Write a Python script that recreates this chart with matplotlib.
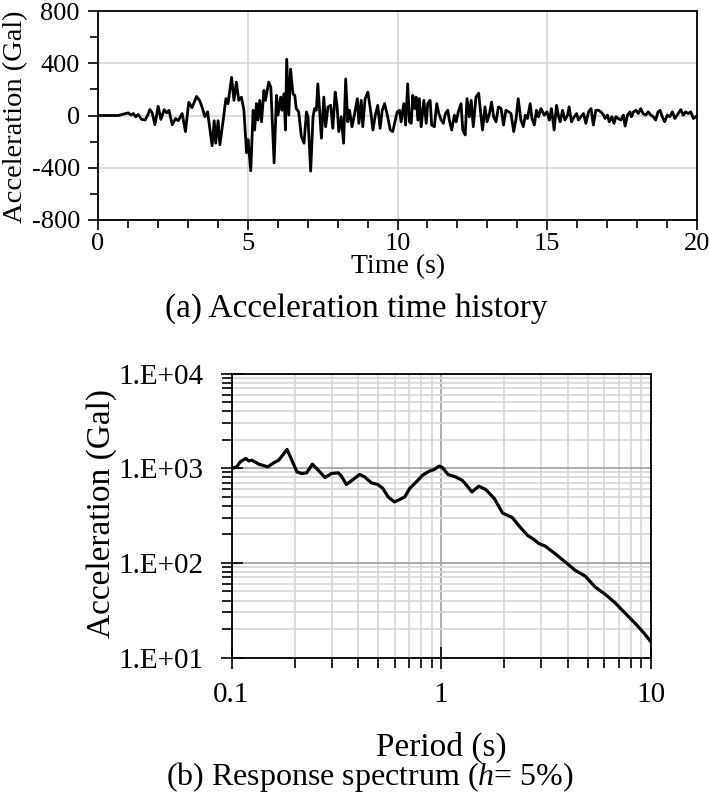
import matplotlib
matplotlib.use('Agg')
import matplotlib.pyplot as plt
from matplotlib.ticker import MultipleLocator, FixedLocator, FixedFormatter, LogLocator, NullFormatter

# ---------------- data ----------------
time_s = [0.0, 0.68, 0.84, 1.01, 1.10, 1.18, 1.26, 1.34, 1.46, 1.57, 1.66, 1.73, 1.81, 1.90,
          2.01, 2.10, 2.21, 2.29, 2.37, 2.48, 2.59, 2.68, 2.81, 2.92, 3.03, 3.14, 3.29, 3.40,
          3.48, 3.57, 3.66, 3.73, 3.81, 3.88, 3.93, 4.01, 4.07, 4.18, 4.27, 4.34, 4.46, 4.54,
          4.62, 4.70, 4.79, 4.87, 4.96, 5.01, 5.10, 5.18, 5.23, 5.29, 5.34, 5.40, 5.46, 5.54,
          5.59, 5.70, 5.77, 5.88, 5.96, 6.01, 6.10, 6.14, 6.21, 6.26, 6.30, 6.37, 6.43, 6.51,
          6.57, 6.62, 6.70, 6.79, 6.88, 6.96, 7.01, 7.10, 7.18, 7.23, 7.29, 7.34, 7.40, 7.46,
          7.54, 7.60, 7.68, 7.77, 7.84, 7.92, 7.98, 8.04, 8.12, 8.20, 8.27, 8.34, 8.40, 8.48,
          8.57, 8.66, 8.71, 8.79, 8.84, 8.92, 9.01, 9.10, 9.18, 9.26, 9.34, 9.42, 9.49, 9.57,
          9.66, 9.76, 9.84, 9.99, 10.07, 10.12, 10.21, 10.27, 10.34, 10.40, 10.46, 10.51, 10.57,
          10.62, 10.68, 10.73, 10.79, 10.88, 10.96, 11.01, 11.09, 11.14, 11.23, 11.31, 11.38,
          11.46, 11.53, 11.60, 11.68, 11.73, 11.81, 11.90, 11.96, 12.03, 12.12, 12.18, 12.26,
          12.32, 12.40, 12.46, 12.53, 12.62, 12.71, 12.79, 12.84, 12.92, 12.99, 13.07, 13.14,
          13.21, 13.29, 13.37, 13.46, 13.54, 13.62, 13.71, 13.79, 13.88, 13.96, 14.03, 14.12,
          14.20, 14.27, 14.34, 14.43, 14.49, 14.57, 14.64, 14.71, 14.79, 14.90, 14.99, 15.07,
          15.14, 15.23, 15.31, 15.38, 15.43, 15.51, 15.59, 15.68, 15.73, 15.81, 15.90, 15.98,
          16.04, 16.12, 16.21, 16.29, 16.38, 16.46, 16.54, 16.62, 16.71, 16.79, 16.88, 16.93,
          17.01, 17.07, 17.16, 17.23, 17.29, 17.37, 17.46, 17.54, 17.60, 17.68, 17.76, 17.81,
          17.88, 17.96, 18.04, 18.12, 18.20, 18.29, 18.37, 18.46, 18.54, 18.62, 18.70, 18.77,
          18.84, 18.92, 19.01, 19.09, 19.18, 19.26, 19.34, 19.46, 19.54, 19.62, 19.71, 19.79,
          19.88, 19.96, 20.0]
accel_gal = [0, 0, 10, 20, 3, 15, -10, 8, -30, -35, 3, 45, 20, -71,
             71, -30, 45, 20, 40, -71, -23, -40, 15, -123, 101, 60, 146, 111,
             60, -10, 28, -91, -232, -40, -212, -40, -224, -35, 129, 91, 292, 116,
             255, 116, 140, 43, -285, -184, -423, 40, -111, 91, -35, 116, -48, 192,
             116, 255, 217, -363, 154, 3, 141, 40, 166, -111, 431, 3, 355, 166,
             154, 53, 28, -161, -212, 28, -10, -426, -10, 53, 40, 242, 40, -174,
             141, -86, 66, 78, -98, 179, 78, -123, -10, -212, 280, -48, 40, -86,
             15, 129, -60, 116, -86, 129, 179, 40, -111, 3, 78, -98, 40, 91,
             3, -111, -123, 28, 40, -48, 91, -73, 242, -48, -60, 154, 53,
             141, -35, 129, -86, 116, -60, 91, 116, -73, -86, 91, 15,
             -35, -60, 15, 40, -35, -111, 3, -48, 28, 91, -111, -149,
             129, -10, 116, -86, 141, 171, -10, -111, 66, -48, 15, 103,
             -10, -48, 66, 53, -73, 40, 28, 15, -123, -23, 129, -35,
             -86, 3, -23, 91, -23, -73, 40, -10, 53, 3, 28, -35,
             53, -111, 78, -10, -48, 40, -35, 3, 66, -48, -10, 15,
             -35, -10, 15, -60, 28, 53, -73, 40, 40, 28, 3, -23,
             3, -48, -10, -60, -10, -23, -35, 3, -81, 3, 28, -10,
             28, 40, 15, 53, 15, 3, 28, 3, -10, -35, 28, 40,
             -10, -48, 3, -10, 28, -23, 3, 45, 3, 28, 15, 28,
             -23, -10, 0]

period_s = [0.100, 0.106, 0.110, 0.117, 0.121, 0.125, 0.135, 0.149, 0.159, 0.168, 0.184,
            0.194, 0.205, 0.216, 0.228, 0.243, 0.259, 0.279, 0.300, 0.323, 0.334, 0.353,
            0.380, 0.408, 0.431, 0.465, 0.499, 0.527, 0.558, 0.598, 0.633, 0.670, 0.707,
            0.760, 0.815, 0.876, 0.925, 0.977, 1.012, 1.077, 1.169, 1.256, 1.30, 1.40, 1.51,
            1.63, 1.79, 1.96, 2.18, 2.39, 2.58, 2.77, 2.92, 3.13, 3.49, 3.90, 4.36, 4.85,
            5.42, 6.06, 6.75, 7.55, 8.43, 9.26, 10.0]
sa_gal = [993, 1032, 1166, 1266, 1194, 1215, 1102, 1032, 1138, 1215, 1577,
          1215, 914, 879, 892, 1102, 952, 797, 879, 892, 823, 672,
          759, 858, 809, 699, 672, 610, 497, 440, 466, 497, 610,
          716, 843, 930, 968, 1050, 1017, 858, 809, 746, 688, 561, 645,
          595, 478, 336, 301, 235, 195, 176, 160, 150, 125, 102, 83, 72.6,
          55.5, 46.4, 37.7, 29.2, 22.8, 18.1, 14.6]

time_ticks = [0, 5, 10, 15, 20]
time_tick_labels = ['0', '5', '10', '15', '20']
acc_ticks = [-800, -400, 0, 400, 800]
acc_tick_labels = ['-800', '-400', '0', '400', '800']
period_ticks = [0.1, 1, 10]
period_tick_labels = ['0.1', '1', '10']
sa_ticks = [10, 100, 1000, 10000]
sa_tick_labels = ['1.E+01', '1.E+02', '1.E+03', '1.E+04']

# ---------------- style ----------------
plt.rcParams['font.family'] = ['Liberation Serif', 'DejaVu Serif']
plt.rcParams['mathtext.fontset'] = 'custom'
plt.rcParams['mathtext.rm'] = 'Liberation Serif'
plt.rcParams['mathtext.it'] = 'Liberation Serif:italic'
plt.rcParams['axes.unicode_minus'] = False

W, H = 709, 794
fig = plt.figure(figsize=(W / 100, H / 100), dpi=100)


def rect(l, t, r, b):
    return [l / W, 1 - b / H, (r - l) / W, (b - t) / H]


def ftext(x, y, s, **kw):
    fig.text(x / W, 1 - y / H, s, ha='center', va='center', **kw)


# ---------------- (a) time history ----------------
ax1 = fig.add_axes(rect(98, 11, 697, 220))
ax1.plot(time_s, accel_gal, color='black', lw=2.0, solid_joinstyle='round')
ax1.set_xlim(0, 20)
ax1.set_ylim(-800, 800)
ax1.xaxis.set_major_locator(FixedLocator(time_ticks))
ax1.xaxis.set_major_formatter(FixedFormatter(time_tick_labels))
ax1.xaxis.set_minor_locator(MultipleLocator(1))
ax1.yaxis.set_major_locator(FixedLocator(acc_ticks))
ax1.yaxis.set_major_formatter(FixedFormatter(acc_tick_labels))
ax1.yaxis.set_minor_locator(MultipleLocator(200))
ax1.grid(True, which='major', color='#d9d9d9', lw=1.3)
ax1.set_axisbelow(True)
ax1.tick_params(which='major', direction='out', length=7, width=1.2, labelsize=19, pad=2)
ax1.tick_params(axis='y', which='major', pad=6)
ax1.tick_params(which='minor', direction='out', length=6, width=1.2)
for s in ax1.spines.values():
    s.set_linewidth(1.3)

ftext(16, 117, 'Acceleration (Gal)', rotation=90, fontsize=20.5)
ftext(398, 267, 'Time (s)', fontsize=20)
ftext(356, 309, '(a) Acceleration time history', fontsize=24)

# ---------------- (b) response spectrum ----------------
ax2 = fig.add_axes(rect(231.5, 373.5, 651, 657.5))
ax2.plot(period_s, sa_gal, color='black', lw=2.3, solid_joinstyle='round')
ax2.set_xscale('log')
ax2.set_yscale('log')
ax2.set_xlim(0.1, 10)
ax2.set_ylim(10, 10000)
ax2.xaxis.set_major_locator(FixedLocator(period_ticks))
ax2.xaxis.set_major_formatter(FixedFormatter(period_tick_labels))
ax2.xaxis.set_minor_locator(LogLocator(base=10, subs=range(2, 10)))
ax2.xaxis.set_minor_formatter(NullFormatter())
ax2.yaxis.set_major_locator(FixedLocator(sa_ticks))
ax2.yaxis.set_major_formatter(FixedFormatter(sa_tick_labels))
ax2.yaxis.set_minor_locator(LogLocator(base=10, subs=range(2, 10)))
ax2.yaxis.set_minor_formatter(NullFormatter())
ax2.grid(True, which='minor', color='#d9d9d9', lw=1.3)
ax2.grid(True, which='major', color='#a6a6a6', lw=1.3)
ax2.set_axisbelow(True)
ax2.tick_params(which='major', direction='inout', length=16, width=1.2, labelsize=21)
ax2.tick_params(axis='x', which='major', pad=10)
ax2.tick_params(axis='y', which='major', pad=12)
ax2.tick_params(which='minor', direction='out', length=7, width=1.2)
for s in ax2.spines.values():
    s.set_linewidth(1.3)

ftext(102, 513, 'Acceleration (Gal)', rotation=90, fontsize=24)
ftext(441, 747, 'Period (s)', fontsize=24)
ftext(370, 777, r'(b) Response spectrum ($\mathit{h}$= 5%)', fontsize=23)

fig.savefig('out.png', dpi=100)
